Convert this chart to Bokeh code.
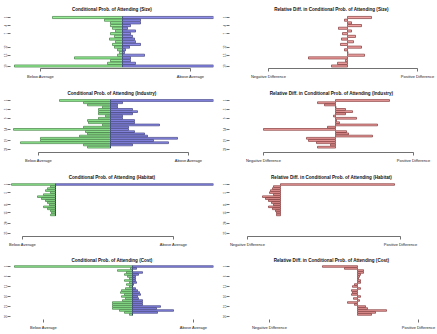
import math
from bokeh.plotting import figure
from bokeh.models import Range1d, FixedTicker, ColumnDataSource
from bokeh.layouts import column, row
from bokeh.embed import file_html
from bokeh.resources import INLINE

NAN = float("nan")

# ---------------- data ----------------
size_below = [70, 18, 12, 12, 10, 7, 12, 8, 13, 7, 10, 8, 5, 3, 5, 48, 12, 15, 108]
size_above = [92, 18, 18, 8, 5, 13, 8, 10, 12, 13, 18, 7, 3, 2, 22, 8, 8, 13, 92]
size_reldiff = [24, -3, 4, 14, -9, 4, -5, 8, -6, 6, -7, 14, -3, 0.5, 17, -39, -2, -10, -16]
size_tick_rows = [0, 3, 6, 11, 14, 18]
size_tick_labels = ["1", "4", "7", "12", "15", "19"]

industry_below = [51, 27, 23, 8, 12, 12, 12, 5, 12, 23, 22, 8, 27, 97, 25, 23, 31, 70, 70, 90, 27, 23, NAN]
industry_above = [103, 12, 7, 7, 22, 27, 22, 12, 12, 24, 24, 49, 18, 18, 24, 34, 37, 67, 43, 58, 22, 0, NAN]
industry_reldiff = [54, -18, -11, 0.5, 10, 17, 10, -2, 21, 1, 4, 42, -8, -72, 11, 13, 37, -29, -27, -19, -5, -18, NAN]
industry_tick_rows = [0, 4, 8, 13, 18, 22]
industry_tick_labels = ["1", "5", "9", "14", "19", "23"]

habitat_below = [44, 5, 8, 10, 5, 12, 18, 14, 10, 8, 6, 12, 8, 5, 4, 5,
                 NAN, NAN, NAN, NAN, NAN, NAN, NAN, NAN, NAN]
habitat_above = [158, 0, 0, 0, 0, 0, 0, 0, 0, 0, 0, 0, 0, 0, 0, 0,
                 NAN, NAN, NAN, NAN, NAN, NAN, NAN, NAN, NAN]
habitat_reldiff = [114, -7, -8, -10, -11, -7, -18, -15, -12, -9, -7, -12, -8, -5, -4, -4,
                   NAN, NAN, NAN, NAN, NAN, NAN, NAN, NAN, NAN]
habitat_tick_rows = [0, 4, 10, 14, 19, 24]
habitat_tick_labels = ["1", "5", "11", "15", "20", "25"]

cost_below = [118, 2, 15, 6, 8, 5, 3, 8, 3, 6, 3, 7, 11, 12, 8, 11, 7, 10, 20, 20, 20, 20, 13, 8, 3, NAN]
cost_above = [82, 4, 0, 10, 6, 3, 3, 3, 4, 1, 0, 3, 5, 7, 8, 5, 6, 10, 10, 10, 28, 24, 41, 25, 0, NAN]
cost_reldiff = [-35, -13, 6, 6, 3, 2, 1, 3, 3, -3, -5, 3, -6, -5, -6, 3, -4, 2, -10, -3, 8, 10, 29, 18, 14, NAN]
cost_tick_rows = [0, 5, 10, 15, 20, 25]
cost_tick_labels = ["1", "6", "11", "16", "21", "26"]

left_axis_labels = ["Below Average", "Above Average"]
right_axis_labels = ["Negative Difference", "Positive Difference"]

# ---------------- style ----------------
FONT = "Liberation Sans"
GREEN_FILL, GREEN_LINE = "#97EE97", "#2E6B2E"
BLUE_FILL, BLUE_LINE = "#8E8EEA", "#2B2B70"
RED_FILL, RED_LINE = "#F2A4A4", "#702020"
FT, FB = 12, 68  # frame top / bottom (px from figure top)


def panel(title, w, h, fl, fr, center, xticks, xlabels, n, top_c, bot_c,
          yrows, ylabels, axis_line=True):
    s = (bot_c - top_c) / (n - 1)
    y_hi = (n - 1) + (top_c - FT) / s
    y_lo = -(FB - bot_c) / s
    p = figure(width=w, height=h, output_backend="svg", toolbar_location=None,
               x_range=Range1d(fl - center, fr - center), y_range=Range1d(y_lo, y_hi),
               min_border_left=fl, min_border_right=w - fr,
               min_border_top=FT, min_border_bottom=h - FB)
    p.title.text = title
    p.title.align = "center"
    p.title.text_font = FONT
    p.title.text_font_size = "4.6px"
    p.title.text_font_style = "bold"
    p.title.text_color = "#111111"
    p.title.standoff = 2
    p.outline_line_color = None
    p.grid.visible = False
    p.background_fill_color = "white"
    p.border_fill_color = "white"

    xa = p.xaxis[0]
    xa.ticker = FixedTicker(ticks=list(xticks))
    xa.major_label_overrides = {t: lab for t, lab in zip(xticks, xlabels)}
    xa.bounds = (xticks[0], xticks[1])
    xa.major_tick_out = 3
    xa.major_tick_in = 0
    xa.minor_tick_line_color = None
    xa.major_label_standoff = 2
    xa.major_label_text_font = FONT
    xa.major_label_text_font_size = "4px"
    xa.major_label_text_color = "#222222"
    xa.axis_line_width = 0.7
    xa.major_tick_line_width = 0.7
    xa.axis_line_color = "#333333" if axis_line else None
    xa.major_tick_line_color = "#333333"

    ya = p.yaxis[0]
    ya.ticker = FixedTicker(ticks=[n - 1 - r for r in yrows])
    ya.major_label_overrides = {n - 1 - r: lab for r, lab in zip(yrows, ylabels)}
    ya.major_label_orientation = "vertical"
    ya.major_tick_out = 3
    ya.major_tick_in = 0
    ya.minor_tick_line_color = None
    ya.axis_line_color = None
    ya.major_tick_line_width = 0.7
    ya.major_tick_line_color = "#333333"
    ya.major_label_standoff = 1
    ya.major_label_text_font = FONT
    ya.major_label_text_font_size = "3px"
    ya.major_label_text_color = "#333333"
    return p


def add_split(p, below, above):
    n = len(below)
    yb, lb = [], []
    ya_, ra = [], []
    for i, (b, a) in enumerate(zip(below, above)):
        if not math.isnan(b):
            yb.append(n - 1 - i); lb.append(-b)
        if not math.isnan(a):
            ya_.append(n - 1 - i); ra.append(a)
    p.hbar(y="y", left="left", right=0, height=0.8,
           source=ColumnDataSource(dict(y=yb, left=lb)),
           fill_color=GREEN_FILL, line_color=GREEN_LINE, line_width=0.6)
    p.hbar(y="y", left=0, right="right", height=0.8,
           source=ColumnDataSource(dict(y=ya_, right=ra)),
           fill_color=BLUE_FILL, line_color=BLUE_LINE, line_width=0.6)


def add_diff(p, diff):
    n = len(diff)
    ys, lo, hi = [], [], []
    for i, d in enumerate(diff):
        if not math.isnan(d):
            ys.append(n - 1 - i); lo.append(min(0, d)); hi.append(max(0, d))
    p.hbar(y="y", left="lo", right="hi", height=0.8,
           source=ColumnDataSource(dict(y=ys, lo=lo, hi=hi)),
           fill_color=RED_FILL, line_color=RED_LINE, line_width=0.6)


WL, WR = 219, 218
LFL, LFR = 10, 213
RFL, RFR = 10, 214

rows_cfg = [
    ("Size", size_below, size_above, size_reldiff, size_tick_rows, size_tick_labels,
     84, 122, (-82, 68), 128, (-79, 70), 17, 65.5, True),
    ("Industry", industry_below, industry_above, industry_reldiff, industry_tick_rows, industry_tick_labels,
     84, 110, (-72, 78), 116, (-72, 78), 16, 64.9, True),
    ("Habitat", habitat_below, habitat_above, habitat_reldiff, habitat_tick_rows, habitat_tick_labels,
     83, 55, (-33, 118), 61, (-33, 120), 16, 64.7, True),
    ("Cost", cost_below, cost_above, cost_reldiff, cost_tick_rows, cost_tick_labels,
     83, 132, (-89, 61), 138, (-88, 61), 15, 65, False),
]

grid_rows = []
for (name, below, above, diff, trows, tlabels, h, lc, lt, rc, rt, top_c, bot_c, aline) in rows_cfg:
    n = len(below)
    pl = panel("Conditional Prob. of Attending (%s)" % name, WL, h, LFL, LFR, lc, lt,
               left_axis_labels, n, top_c, bot_c, trows, tlabels, aline)
    add_split(pl, below, above)
    pr = panel("Relative Diff. in Conditional Prob. of Attending (%s)" % name, WR, h, RFL, RFR, rc, rt,
               right_axis_labels, n, top_c, bot_c, trows, tlabels, aline)
    add_diff(pr, diff)
    grid_rows.append(row(pl, pr, spacing=0))

layout = column(*grid_rows, spacing=0)
open("out.html", "w").write(file_html(layout, INLINE))
